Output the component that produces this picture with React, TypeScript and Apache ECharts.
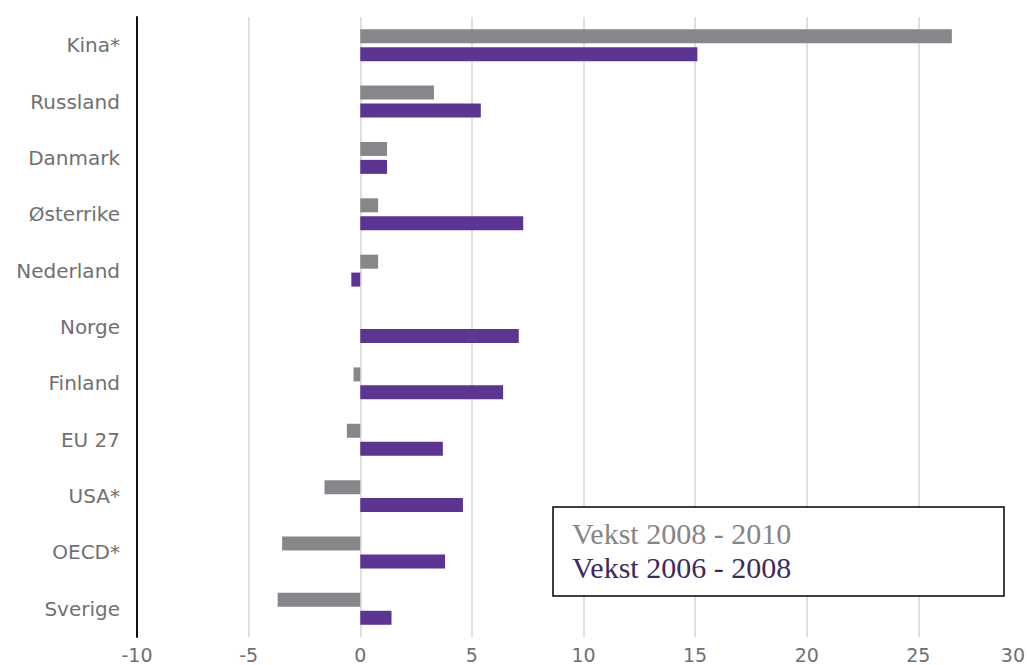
import React, { useEffect, useRef } from "react";
import * as echarts from "echarts";

const categories = ["Kina*", "Russland", "Danmark", "Østerrike", "Nederland", "Norge", "Finland", "EU 27", "USA*", "OECD*", "Sverige"];
const vekst2008_2010 = [26.5, 3.3, 1.2, 0.8, 0.8, 0, -0.3, -0.6, -1.6, -3.5, -3.7];
const vekst2006_2008 = [15.1, 5.4, 1.2, 7.3, -0.4, 7.1, 6.4, 3.7, 4.6, 3.8, 1.4];
const xTicks = { min: -10, max: 30, interval: 5 };

export default function App() {
  const ref = useRef<HTMLDivElement>(null);
  useEffect(() => {
    document.body.style.margin = "0";
    const chart = echarts.init(ref.current!, undefined, { renderer: "svg" });
    chart.setOption({
      animation: false,
      backgroundColor: "#ffffff",
      grid: { left: 137, width: 893, top: 17, height: 620, outerBoundsMode: "none", containLabel: false },
      xAxis: {
        type: "value",
        min: xTicks.min,
        max: xTicks.max,
        interval: xTicks.interval,
        axisLine: { show: false },
        axisTick: { show: false },
        splitLine: { show: true, lineStyle: { color: "#d6d6d6", width: 1.5 } },
        axisLabel: {
          color: "#707070",
          fontFamily: "DejaVu Sans",
          fontSize: 19,
          margin: 8,
          alignMaxLabel: "right",
          formatter: (v: number) => (v === xTicks.max ? "{m|" + v + "}" : String(v)),
          rich: {
            m: { color: "#707070", fontFamily: "DejaVu Sans", fontSize: 19, padding: [0, 5, 0, 0] },
          },
        },
      },
      yAxis: {
        type: "category",
        data: categories,
        inverse: true,
        axisLine: { show: true, onZero: false, lineStyle: { color: "#111111", width: 2 } },
        axisTick: { show: false },
        splitLine: { show: false },
        axisLabel: {
          color: "#707070",
          fontFamily: "DejaVu Sans",
          fontSize: 20,
          margin: 17,
        },
      },
      series: [
        {
          name: "Vekst 2008 - 2010",
          type: "bar",
          data: vekst2008_2010,
          barWidth: 14,
          barGap: "28%",
          itemStyle: { color: "#87868b" },
        },
        {
          name: "Vekst 2006 - 2008",
          type: "bar",
          data: vekst2006_2008,
          barWidth: 14,
          barGap: "28%",
          itemStyle: { color: "#5c3592" },
        },
      ],
      graphic: [
        {
          type: "rect",
          shape: { x: 553, y: 507, width: 451, height: 89 },
          style: { fill: "#ffffff", stroke: "#000000", lineWidth: 1.5 },
          z: 100,
        },
        {
          type: "text",
          x: 572,
          y: 518,
          style: {
            text: "Vekst 2008 - 2010",
            fill: "#858585",
            font: "30px 'Liberation Serif'",
          },
          z: 101,
        },
        {
          type: "text",
          x: 572,
          y: 552,
          style: {
            text: "Vekst 2006 - 2008",
            fill: "#3e2a5c",
            font: "30px 'Liberation Serif'",
          },
          z: 101,
        },
      ],
    });
    return () => chart.dispose();
  }, []);
  return <div ref={ref} style={{ position: "absolute", left: 0, top: 0, width: 1027, height: 665 }} />;
}
